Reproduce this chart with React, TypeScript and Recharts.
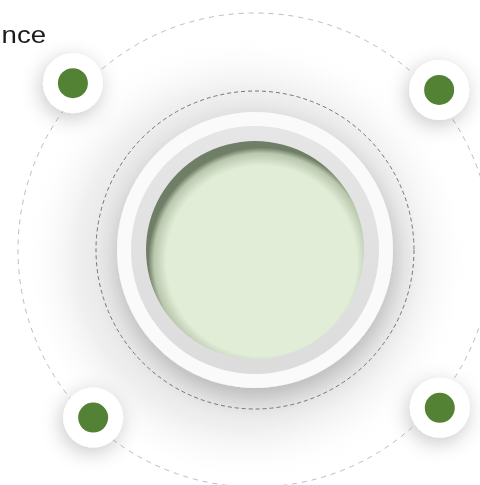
import React from 'react';
import { PieChart, Pie, PolarGrid, ScatterChart, Scatter, XAxis, YAxis } from 'recharts';

// rings of the centre piece, outermost first
const rings = ['glow', 'outerRing', 'innerRing', 'core'];
const ringValues = [1, 1, 1, 1];

// dashed orbits
const orbitRadii = [237, 159];

// markers around the orbit (angle in degrees, distance from centre)
const markerNames = ['A', 'B', 'C', 'D'];
const markerAngles = [41, 137.5, 226, 319.5];
const markerDistances = [244, 247, 233, 243];

const titleText = 'nce';

const W = 480;
const H = 485;
const CX = 255;
const CY = 250;

const markerData = markerNames.map((name, i) => {
  const rad = (markerAngles[i] * Math.PI) / 180;
  return {
    name,
    x: CX + markerDistances[i] * Math.cos(rad),
    y: CY - markerDistances[i] * Math.sin(rad),
  };
});

const ringData = rings.map((name, i) => [{ name, value: ringValues[i] }]);

const Marker = (props: any) => {
  const { cx, cy } = props;
  return (
    <g>
      <circle cx={cx} cy={cy} r={30} fill="#ffffff" filter="url(#markerShadow)" />
      <circle cx={cx} cy={cy} r={15} fill="#548235" />
    </g>
  );
};

const layer: React.CSSProperties = { position: 'absolute', left: 0, top: 0 };

export default function App() {
  return (
    <div style={{ position: 'absolute', left: 0, top: 0, width: W, height: H, background: '#fff', overflow: 'hidden' }}>
      <svg width={0} height={0} style={{ position: 'absolute' }}>
        <defs>
          <radialGradient id="glowFill" cx="48%" cy="52%" r="50%">
            <stop offset="0.5" stopColor="#e0e0e0" />
            <stop offset="0.75" stopColor="#efefef" />
            <stop offset="1" stopColor="#ffffff" stopOpacity={0} />
          </radialGradient>
          <radialGradient id="coreFill" cx="53%" cy="55%" r="52%">
            <stop offset="0.84" stopColor="#e2edd8" />
            <stop offset="0.95" stopColor="#b9c7ad" />
            <stop offset="1" stopColor="#6f7e66" />
          </radialGradient>
          <linearGradient id="ringFill" x1="0" y1="0" x2="0" y2="1">
            <stop offset="0" stopColor="#e6e6e6" />
            <stop offset="1" stopColor="#dcdcdc" />
          </linearGradient>
          <filter id="discShadow" x="-30%" y="-30%" width="160%" height="160%">
            <feDropShadow dx="2" dy="10" stdDeviation="12" floodColor="#000" floodOpacity="0.2" />
          </filter>
          <filter id="markerShadow" x="-80%" y="-80%" width="260%" height="260%">
            <feDropShadow dx="-2" dy="5" stdDeviation="10" floodColor="#000" floodOpacity="0.22" />
          </filter>
        </defs>
      </svg>

      {/* soft background glow */}
      <div style={layer}>
        <PieChart width={W} height={H} margin={{ top: 0, right: 0, bottom: 0, left: 0 }}>
          <Pie data={ringData[0]} dataKey="value" cx={CX} cy={CY} outerRadius={225} fill="url(#glowFill)" stroke="none" isAnimationActive={false} />
        </PieChart>
      </div>

      {/* centre disc */}
      <div style={layer}>
        <PieChart width={W} height={H} margin={{ top: 0, right: 0, bottom: 0, left: 0 }}>
          <Pie data={ringData[1]} dataKey="value" cx={CX} cy={CY} outerRadius={138} fill="#fafafa" stroke="none" style={{ filter: 'url(#discShadow)' }} isAnimationActive={false} />
          <Pie data={ringData[2]} dataKey="value" cx={CX} cy={CY} outerRadius={124} fill="url(#ringFill)" stroke="none" isAnimationActive={false} />
          <Pie data={ringData[3]} dataKey="value" cx={CX} cy={CY} outerRadius={109} fill="url(#coreFill)" stroke="none" isAnimationActive={false} />
        </PieChart>
      </div>

      {/* dashed orbits */}
      <div style={layer}>
        <PieChart width={W} height={H} cx={CX} cy={CY} margin={{ top: 0, right: 0, bottom: 0, left: 0 }}>
          <PolarGrid cx={CX} cy={CY} gridType="circle" radialLines={false} polarAngles={[]} polarRadius={[orbitRadii[0]]} stroke="#bdbdbd" strokeDasharray="5 5" />
          <PolarGrid cx={CX} cy={CY} gridType="circle" radialLines={false} polarAngles={[]} polarRadius={[orbitRadii[1]]} stroke="#757575" strokeDasharray="4 3" />
        </PieChart>
      </div>

      {/* markers */}
      <div style={layer}>
        <ScatterChart width={W} height={H} margin={{ top: 0, right: 0, bottom: 0, left: 0 }}>
          <XAxis type="number" dataKey="x" domain={[0, W]} hide />
          <YAxis type="number" dataKey="y" domain={[0, H]} reversed hide />
          <Scatter data={markerData} shape={Marker} isAnimationActive={false} />
        </ScatterChart>
      </div>

      <div
        style={{
          position: 'absolute',
          right: W - 46,
          top: 22,
          fontFamily: '"Liberation Sans", Arial, sans-serif',
          fontSize: 23,
          color: '#1a1a1a',
          whiteSpace: 'nowrap',
          transform: 'scaleX(1.2)',
          transformOrigin: 'right center',
        }}
      >
        {titleText}
      </div>
    </div>
  );
}
